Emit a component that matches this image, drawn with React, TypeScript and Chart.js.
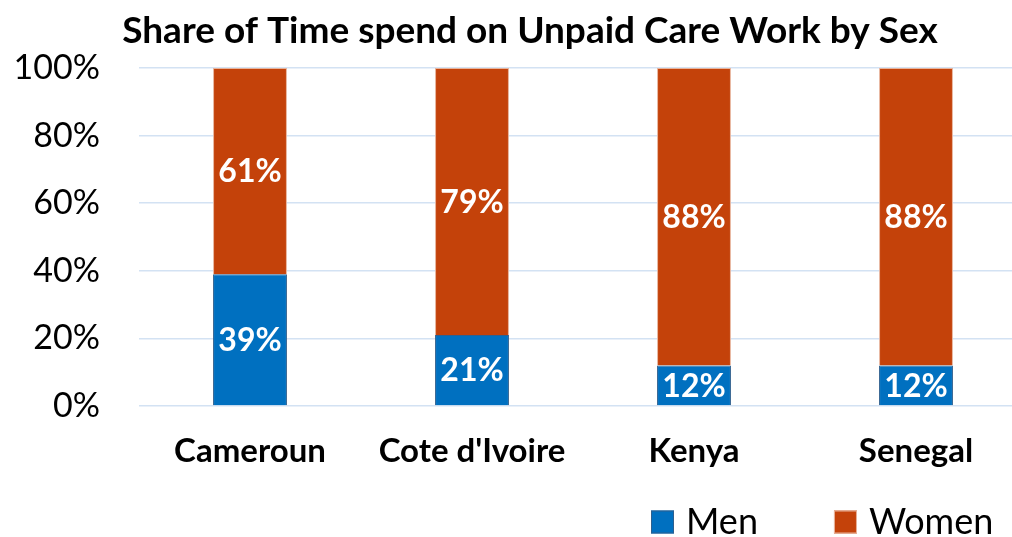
import React, { useEffect, useRef } from "react";
import { Chart, registerables } from "chart.js";

Chart.register(...registerables);

const titleText = "Share of Time spend on Unpaid Care Work by Sex";
const categories = ["Cameroun", "Cote d'Ivoire", "Kenya", "Senegal"];
const seriesNames = ["Men", "Women"];
const menValues = [39, 21, 12, 12];
const womenValues = [61, 79, 88, 88];
const yTickLabels = ["0%", "20%", "40%", "60%", "80%", "100%"];

const FONT = "Lato";
const MEN_COLOR = "#0070C0";
const MEN_BORDER = "#2E5F8E";
const WOMEN_COLOR = "#C4420A";
const WOMEN_BORDER = "#E8B49C";
const GRID_COLOR = "#D3E2F3";

const CANVAS_W = 1030;
const CANVAS_H = 537;

const titlePlugin = {
  id: "customTitle",
  afterDraw(chart: any) {
    const ctx = chart.ctx;
    ctx.save();
    ctx.font = `bold 37px ${FONT}`;
    ctx.fillStyle = "#000000";
    ctx.textAlign = "center";
    ctx.textBaseline = "middle";
    ctx.fillText(titleText, 530, 31);
    ctx.restore();
  },
};

const valueLabelPlugin = {
  id: "valueLabels",
  afterDatasetsDraw(chart: any) {
    const ctx = chart.ctx;
    ctx.save();
    ctx.font = `bold 32px ${FONT}`;
    ctx.fillStyle = "#FFFFFF";
    ctx.textAlign = "center";
    ctx.textBaseline = "middle";
    chart.data.datasets.forEach((ds: any, di: number) => {
      const meta = chart.getDatasetMeta(di);
      meta.data.forEach((el: any, i: number) => {
        const p = el.getProps(["x", "y", "base"], true);
        ctx.fillText(ds.data[i] + "%", p.x, (p.y + p.base) / 2 + 1);
      });
    });
    ctx.restore();
  },
};

const legendPlugin = {
  id: "customLegend",
  afterDraw(chart: any) {
    const ctx = chart.ctx;
    ctx.save();
    ctx.font = `36px ${FONT}`;
    ctx.textBaseline = "middle";
    ctx.textAlign = "left";
    let x = 651;
    const y = 522;
    const box = 23;
    chart.data.datasets.forEach((ds: any) => {
      ctx.fillStyle = ds.backgroundColor;
      ctx.fillRect(x, y - box / 2, box, box);
      ctx.strokeStyle = ds.borderColor;
      ctx.lineWidth = 1;
      ctx.strokeRect(x + 0.5, y - box / 2 + 0.5, box - 1, box - 1);
      ctx.fillStyle = "#000000";
      const tx = x + box + 12;
      ctx.fillText(ds.label, tx, y);
      x = tx + ctx.measureText(ds.label).width + 76;
    });
    ctx.restore();
  },
};

export default function App() {
  const canvasRef = useRef<HTMLCanvasElement | null>(null);

  useEffect(() => {
    if (!canvasRef.current) return;
    const chart = new Chart(canvasRef.current, {
      type: "bar",
      data: {
        labels: categories,
        datasets: [
          {
            label: seriesNames[0],
            data: menValues,
            backgroundColor: MEN_COLOR,
            borderColor: MEN_BORDER,
            borderWidth: 1,
            barPercentage: 0.333,
            categoryPercentage: 1,
          },
          {
            label: seriesNames[1],
            data: womenValues,
            backgroundColor: WOMEN_COLOR,
            borderColor: WOMEN_BORDER,
            borderWidth: 1,
            barPercentage: 0.333,
            categoryPercentage: 1,
          },
        ],
      },
      options: {
        responsive: false,
        animation: false,
        layout: { padding: { top: 68, right: 3, bottom: 0, left: 0 } },
        plugins: {
          legend: { display: false },
          title: { display: false },
          tooltip: { enabled: false },
        },
        scales: {
          x: {
            stacked: true,
            grid: { display: false },
            border: { display: false },
            ticks: {
              color: "#000000",
              font: { family: FONT, size: 33, weight: "bold" },
              padding: 18,
              maxRotation: 0,
              autoSkip: false,
            },
            afterFit(scale: any) {
              scale.height = 131;
            },
          },
          y: {
            stacked: true,
            min: 0,
            max: 100,
            grid: {
              color: GRID_COLOR,
              lineWidth: 1.5,
              drawTicks: false,
            },
            border: { display: false },
            ticks: {
              stepSize: 20,
              color: "#000000",
              font: { family: FONT, size: 34 },
              padding: 39,
              callback: (_v: any, i: number) => yTickLabels[i],
            },
            afterFit(scale: any) {
              scale.width = 139;
            },
          },
        },
      },
      plugins: [titlePlugin, valueLabelPlugin, legendPlugin],
    });
    return () => chart.destroy();
  }, []);

  return (
    <div
      style={{
        position: "fixed",
        left: 0,
        top: 0,
        width: 1012,
        height: CANVAS_H,
        overflow: "hidden",
        background: "#ffffff",
      }}
    >
      <canvas
        ref={canvasRef}
        width={CANVAS_W}
        height={CANVAS_H}
        style={{ width: CANVAS_W, height: CANVAS_H, display: "block" }}
      />
    </div>
  );
}
